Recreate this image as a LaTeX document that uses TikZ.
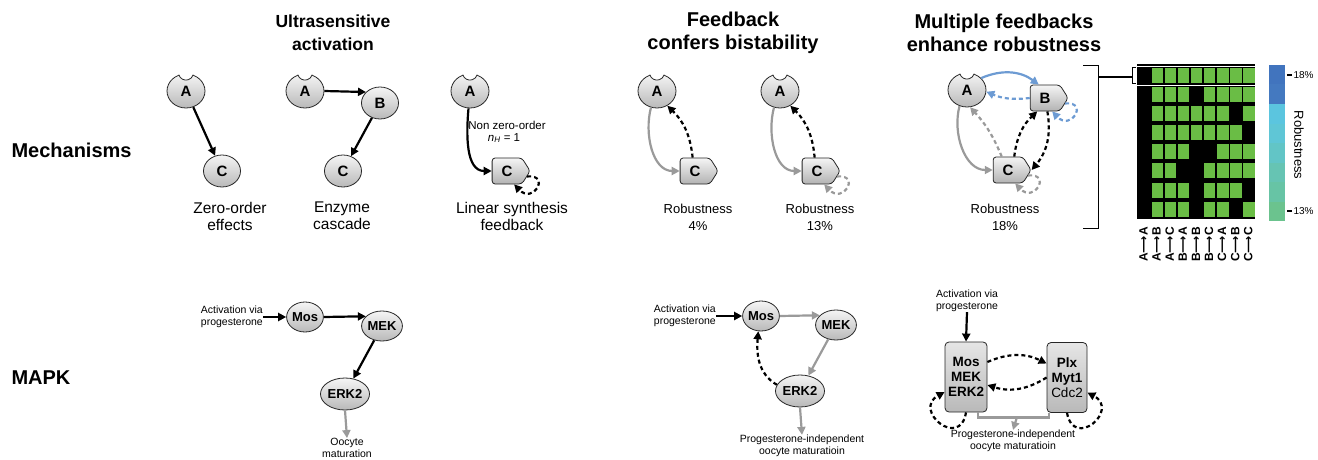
\documentclass[tikz,border=0pt]{standalone}
\usepackage{fontspec}
\setmainfont{Liberation Sans}
\newfontfamily\symfont{DejaVu Sans}
\usepackage{tikz}
\usetikzlibrary{shapes.geometric,shapes.symbols,arrows.meta,calc}
\definecolor{edgegray}{HTML}{9A9A9A}
\definecolor{edgeblue}{HTML}{6D9BD3}
\definecolor{cellgreen}{HTML}{6ABD45}
\definecolor{barA}{HTML}{4174BE}
\definecolor{barB}{HTML}{4479C0}
\definecolor{barC}{HTML}{5BC5DF}
\definecolor{barD}{HTML}{5FC6D6}
\definecolor{barE}{HTML}{62C5C6}
\definecolor{barF}{HTML}{66C4B3}
\definecolor{barG}{HTML}{67C4A5}
\definecolor{barH}{HTML}{6BC38E}
\tikzset{
    molecule/.style={
        ellipse, draw=black!85, line width=0.8pt, inner sep=0pt,
        top color=gray!8, bottom color=gray!55,
        minimum width=37pt, minimum height=32pt,
        font=\bfseries\fontsize{15}{15}\selectfont
    },
    receptor/.style={molecule, minimum width=38pt, minimum height=34pt},
    kinase/.style={molecule, minimum width=36pt, minimum height=30pt,
        font=\bfseries\fontsize{13}{13}\selectfont},
    enzyme/.style={
        signal, signal to=east, signal pointer angle=115,
        draw=black!85, line width=0.8pt, rounded corners=3pt, inner sep=0pt,
        top color=gray!8, bottom color=gray!60,
        minimum width=38pt, minimum height=26pt,
        font=\bfseries\fontsize{15}{15}\selectfont
    },
    module/.style={
        rectangle, rounded corners=4pt, draw=black!85, line width=0.8pt,
        top color=gray!20, bottom color=gray!55, align=center,
        minimum width=42pt, minimum height=70pt, inner sep=0pt,
        font=\bfseries\fontsize{13.5}{15}\selectfont
    },
    act/.style={-{Triangle[length=8pt,width=8pt]}, line width=2.2pt},
    actgray/.style={act, draw=edgegray},
    actblue/.style={act, draw=edgeblue},
    fbk/.style={act, dash pattern=on 4pt off 3pt},
    fbkgray/.style={fbk, draw=edgegray},
    fbkblue/.style={fbk, draw=edgeblue},
    heading/.style={align=center, font=\bfseries\fontsize{20}{23}\selectfont},
    rowname/.style={anchor=west, font=\bfseries\fontsize{20}{20}\selectfont},
    caption/.style={align=center, font=\fontsize{15.5}{17}\selectfont},
    score/.style={align=center, font=\fontsize{13}{17}\selectfont},
    note/.style={align=center, inner sep=0pt, font=\fontsize{10.5}{12}\selectfont},
    pairlabel/.style={rotate=90, anchor=east, inner sep=0pt,
        font=\bfseries\fontsize{12}{12}\selectfont},
    ticklabel/.style={anchor=west, inner sep=1pt, font=\fontsize{10}{10}\selectfont}
}
% bite taken out of the top of a receptor
\newcommand{\notch}[1]{%
    \fill[white] ([yshift=1pt]#1.north) circle (7.5pt);
    \draw[line width=0.8pt, black!85] ([yshift=1pt]#1.north) ++(197:7.5pt) arc (197:343:7.5pt);
}

\begin{document}
\begin{tikzpicture}[x=1pt,y=1pt]
\useasboundingbox (0,0) rectangle (1318,-460);

% headings
\node[heading, font=\bfseries\fontsize{17.5}{23}\selectfont] (head1) at (333,-33) {Ultrasensitive\\activation};
\node[heading] (head2) at (733,-33) {Feedback\\confers bistability};
\node[heading] (head3) at (1004,-33) {Multiple feedbacks\\enhance robustness};
\node[rowname] (mech) at (8,-150) {Mechanisms};
\node[rowname] (mapk) at (8,-378) {MAPK};

% zero-order effects
\node[receptor] (a1) at (186,-91) {A};
\notch{a1}
\node[molecule] (c1) at (222,-171) {C};
\draw[act] (a1) -- (c1);
\node[caption] (cap1) at (230,-216) {Zero-order\\effects};

% enzyme cascade
\node[receptor] (a2) at (305,-91) {A};
\notch{a2}
\node[molecule] (b2) at (380,-103) {B};
\node[molecule] (c2) at (343,-171) {C};
\draw[act] (a2.east) -- (b2.142);
\draw[act] (b2) -- (c2);
\node[caption] (cap2) at (342,-216) {Enzyme\\cascade};

% linear synthesis feedback
\node[receptor] (a3) at (470,-91) {A};
\notch{a3}
\node[enzyme] (c3) at (507,-171) {C};
\draw[act] (a3.265) to[out=265, in=180] (c3.west);
\draw[fbk] (c3.-15) .. controls +(24,2) and +(19,-20) .. (c3.-62);
\node[note, font=\fontsize{11.5}{13}\selectfont] (nzo) at (507,-125) {Non zero-order};
\node[note, font=\fontsize{11.5}{13}\selectfont] (nh) at (504,-138) {\textit{n}\textsubscript{\textit{H}} = 1};
\node[caption] (cap3) at (512,-216) {Linear synthesis\\feedback};

% single feedback
\node[receptor] (a4) at (657,-91) {A};
\notch{a4}
\node[enzyme] (c4) at (695,-171) {C};
\draw[actgray] (a4.250) to[out=255, in=180] (c4.west);
\draw[fbk] (c4.100) to[bend right=20] (a4.-55);
\node[score] (cap4) at (698,-217) {Robustness\\4\%};

% feedback plus self loop
\node[receptor] (a5) at (780,-91) {A};
\notch{a5}
\node[enzyme] (c5) at (817,-171) {C};
\draw[actgray] (a5.250) to[out=255, in=180] (c5.west);
\draw[fbk] (c5.100) to[bend right=20] (a5.-55);
\draw[fbkgray] (c5.-15) .. controls +(24,2) and +(19,-20) .. (c5.-62);
\node[score] (cap5) at (820,-217) {Robustness\\13\%};

% multiple feedbacks
\node[receptor] (a6) at (967,-90) {A};
\notch{a6}
\node[enzyme] (b6) at (1045,-98) {B};
\node[enzyme] (c6) at (1008,-170) {C};
\draw[actblue] (a6.40) to[bend left=30] (b6.115);
\draw[fbkblue] (b6.west) to[bend left=15] (a6.-5);
\draw[fbkblue] (b6.-15) .. controls +(24,2) and +(19,-20) .. (b6.-62);
\draw[actgray] (a6.245) to[out=255, in=180] (c6.west);
\draw[fbkgray] (c6.115) to[bend right=10] (a6.-80);
\draw[fbk] (c6.65) to[bend left=20] (b6.-120);
\draw[fbk] (b6.-80) to[bend left=25] (c6.east);
\draw[fbkgray] (c6.-15) .. controls +(24,2) and +(19,-20) .. (c6.-62);
\node[score] (cap6) at (1005,-217) {Robustness\\18\%};

% bracket to the heat map
\draw[line width=1pt] (1083,-66) -- (1098,-66) -- (1098,-228) -- (1083,-228);
\draw[line width=1.2pt] (1098,-77) -- (1132,-77);
\draw[line width=1pt] (1136,-68) -- (1132,-68) -- (1132,-84) -- (1136,-84);

% heat map of feedback combinations
\fill[black] (1137,-64) rectangle (1255,-219);
\foreach \col in {1,...,8}
    \fill[cellgreen] (1138.4+13.1*\col,-68.5) rectangle ++(11.5,-15);
\draw[white, line width=1pt] (1137,-66.5) -- (1256,-66.5) (1137,-85.2) -- (1256,-85.2);
\foreach \cells [count=\r from 0] in {{1,2,3,5,6,7,8},{1,2,3,4,5,6,8},{1,2,3,4,5,6,7},
        {1,2,3,6,7,8},{1,2,5,6,7,8},{1,2,3,5,6,7},{1,2,3,5,6,8}}
    \foreach \col in \cells
        \fill[cellgreen] (1138.4+13.1*\col,-86.7-19.17*\r) rectangle ++(11.5,-15);
\foreach \p/\q [count=\i from 0] in {A/A,A/B,A/C,B/A,B/B,B/C,C/A,C/B,C/C}
    \node[pairlabel] (pair\i) at (1143.5+13.1*\i,-227) {\p{\symfont\bfseries ⟶}\q};

% colour bar
\foreach \c [count=\k from 0] in {barA,barB,barC,barD,barE,barF,barG,barH}
    \fill[\c] (1269,-65-19.5*\k) rectangle ++(16,-19.5);
\draw[line width=1.2pt] (1287,-75) -- (1292,-75) node[ticklabel] (tickhi) {18\%};
\draw[line width=1.2pt] (1287,-211) -- (1292,-211) node[ticklabel] (ticklo) {13\%};
\node[rotate=-90, font=\fontsize{13}{13}\selectfont] (barname) at (1299,-145) {Robustness};

% MAPK: linear cascade
\node[note, anchor=east, align=right] (prog1) at (263,-317) {Activation via\\progesterone};
\node[kinase] (mos1) at (305,-317) {Mos};
\node[kinase, minimum width=37pt] (mek1) at (382,-326) {MEK};
\node[kinase, minimum height=32pt] (erk1) at (345,-394) {ERK2};
\node[note] (mat1) at (347,-448) {Oocyte\\maturation};
\draw[act] (prog1.east) -- (mos1.west);
\draw[act] (mos1.east) -- (mek1.149);
\draw[act] (mek1) -- (erk1);
\draw[actgray] (erk1.south) -- (mat1.north);

% MAPK: with feedback
\node[note, anchor=east, align=right] (prog2) at (716,-316) {Activation via\\progesterone};
\node[kinase] (mos2) at (761,-316) {Mos};
\node[kinase, minimum width=37pt] (mek2) at (836,-325) {MEK};
\node[kinase, minimum height=32pt] (erk2) at (800,-391) {ERK2};
\node[note] (mat2) at (802,-446) {Progesterone-independent\\oocyte maturatioin};
\draw[act] (prog2.east) -- (mos2.west);
\draw[actgray] (mos2.east) -- (mek2.149);
\draw[actgray] (mek2) -- (erk2);
\draw[fbk] (erk2.165) to[out=150, in=-95] (mos2.-100);
\draw[actgray] (erk2.south) -- (mat2.north);

% MAPK: coupled modules
\node[note] (prog3) at (967,-301) {Activation via\\progesterone};
\node[module] (box1) at (966,-377) {Mos\\MEK\\ERK2};
\node[module, minimum width=40pt, font=\fontsize{13.5}{15}\selectfont] (box2) at (1067,-377.5)
    {\textbf{Plx}\\\textbf{Myt1}\\Cdc2};
\node[note] (mat3) at (1013,-441) {Progesterone-independent\\oocyte maturatioin};
\draw[act] (prog3.south) -- (box1.north);
\draw[fbk] ([yshift=15pt]box1.east) to[bend left=25] ([yshift=14pt]box2.west);
\draw[fbk] (box2.west) to[bend left=25] ([yshift=-8pt]box1.east);
\draw[fbk] (box1.south) .. controls (960,-450) and (912,-410) .. ([yshift=-15pt]box1.west);
\draw[fbk] (box2.south) .. controls (1074,-450) and (1120,-410) .. ([yshift=-15pt]box2.east);
\draw[line width=2.2pt, edgegray] ([xshift=12pt]box1.south) -- ++(0,-5) coordinate (join3)
    -| ([xshift=-18pt]box2.south);
\coordinate (mid3) at (1017,-417);
\draw[actgray] (mid3) -- (mat3.north);
\end{tikzpicture}
\end{document}
